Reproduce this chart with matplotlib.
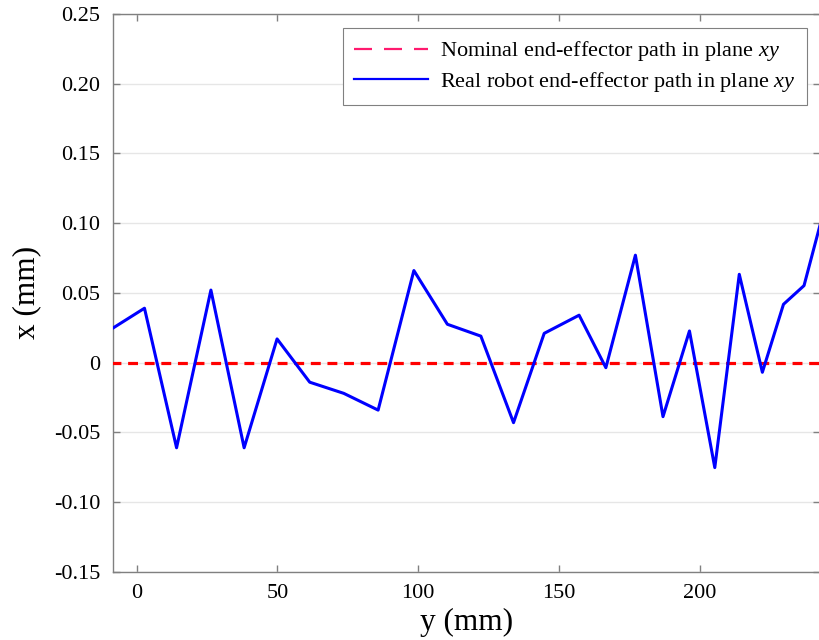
import matplotlib
matplotlib.use("Agg")
import matplotlib.pyplot as plt
from matplotlib.lines import Line2D

plt.rcParams['font.family'] = ['Liberation Serif', 'DejaVu Serif']
plt.rcParams['mathtext.fontset'] = 'custom'
plt.rcParams['mathtext.rm'] = 'Liberation Serif'
plt.rcParams['mathtext.it'] = 'Liberation Serif:italic'

# real robot path (y position in mm, x deviation in mm)
real_y = [-9.0, 2.8, 14.2, 26.4, 38.2, 49.9, 61.5, 73.6, 85.8, 98.5, 110.4,
          122.3, 133.9, 144.8, 157.2, 166.7, 177.2, 187.0, 196.4, 205.4,
          214.1, 222.3, 229.8, 237.1, 243.5]
real_x = [0.024, 0.039, -0.061, 0.052, -0.061, 0.017, -0.014, -0.022, -0.034,
          0.066, 0.0275, 0.019, -0.043, 0.021, 0.034, -0.0036, 0.077, -0.0387,
          0.0227, -0.0752, 0.0633, -0.0069, 0.0418, 0.0552, 0.104]

# nominal path
nominal_y = [-9.0, 244.0]
nominal_x = [0.0, 0.0]

xticks = [0, 50, 100, 150, 200]
yticks = [-0.15, -0.10, -0.05, 0, 0.05, 0.10, 0.15, 0.20, 0.25]
ytick_labels = ['-0.15', '-0.10', '-0.05', '0', '0.05', '0.10', '0.15', '0.20', '0.25']

label_nominal = 'Nominal end-effector path in plane $xy$'
label_real = 'Real robot end-effector path in plane $xy$'

fig = plt.figure(figsize=(8.2, 6.4), dpi=100)
ax = fig.add_axes([0.1374, 0.10625, 0.8620, 0.8723])

ax.plot(nominal_y, nominal_x, color='#ff0000', lw=2.3, linestyle=(0, (3.1, 2.1)), zorder=3)
ax.plot(real_y, real_x, color='#0000ff', lw=2.2, zorder=4)

ax.set_xlim(-8.5, 242.6)
ax.set_ylim(-0.15, 0.25)
ax.set_xticks(xticks)
ax.set_yticks(yticks)
ax.set_yticklabels(ytick_labels)

# only horizontal grid lines
ax.yaxis.grid(True, color='#e6e6e6', lw=1.0)
ax.xaxis.grid(False)
ax.set_axisbelow(True)

for sp in ax.spines.values():
    sp.set_color('#808080')
    sp.set_linewidth(1.0)

ax.tick_params(direction='in', length=5, width=1, colors='#808080',
               top=True, right=True, labelsize=16, labelcolor='black', pad=9)

ax.set_xlabel('y (mm)', fontsize=22.5, labelpad=3)
ax.set_ylabel('x (mm)', fontsize=22.5, labelpad=9)

handles = [
    Line2D([], [], color='#ff1a6e', lw=1.6, linestyle=(0, (8.1, 5.4))),
    Line2D([], [], color='#0000ff', lw=1.6),
]
leg = ax.legend(handles, [label_nominal, label_real], loc='upper right',
                bbox_to_anchor=(0.982, 0.974), borderaxespad=0, fontsize=16,
                fancybox=False, framealpha=1, edgecolor='#808080',
                handlelength=3.33, handletextpad=0.54, borderpad=0.5,
                labelspacing=0.3)
leg.get_frame().set_linewidth(0.8)

fig.savefig('out.png', dpi=100)
